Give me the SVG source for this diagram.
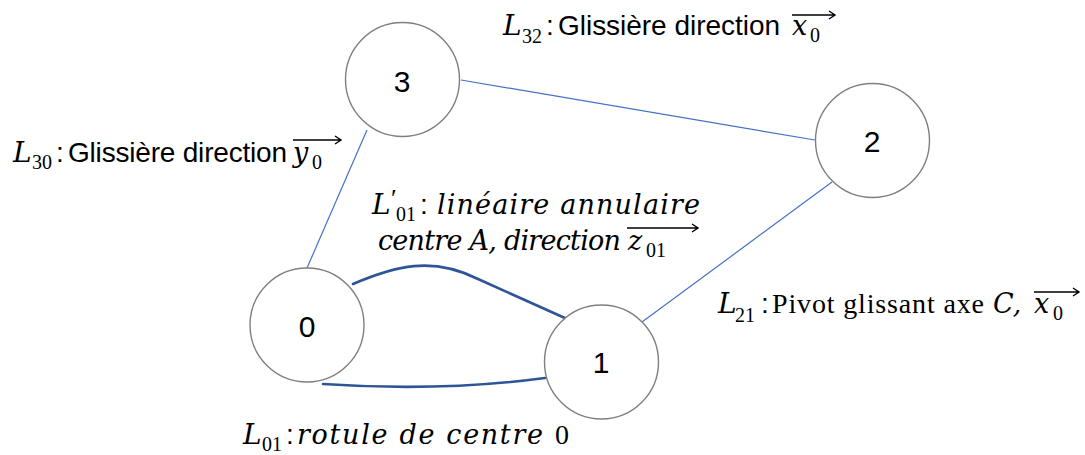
<svg xmlns="http://www.w3.org/2000/svg" width="1085" height="455" viewBox="0 0 1085 455">
<style>
.node{fill:#fff;stroke:#7f7f7f;stroke-width:1.4}
.num{font-family:"Liberation Sans",Arial,sans-serif;font-size:30px;fill:#000;text-anchor:middle}
.thin{stroke:#4472c4;stroke-width:1.2;fill:none}
.thick{stroke:#2f5597;stroke-width:2.6;fill:none;stroke-linecap:round}
.sans{font-family:"Liberation Sans",Arial,sans-serif;font-size:28px;fill:#000}
.ser{font-family:"Liberation Serif","Times New Roman",serif;font-size:28px;fill:#000}
.it{font-family:"DejaVu Serif",serif;font-style:italic;font-size:27px;fill:#000}
.L{font-family:"DejaVu Serif",serif;font-style:italic;font-size:28px;fill:#000}
.pr{font-family:"Liberation Serif","Times New Roman",serif;font-size:26px;fill:#000}
.sub{font-family:"Liberation Serif","Times New Roman",serif;font-size:20px;fill:#000}
.vec{stroke:#000;stroke-width:1.4;fill:none}
</style>
<rect width="1085" height="455" fill="#fff"/>
<g id="connectors">
<line class="thin" x1="461" y1="80" x2="815" y2="140"/>
<line class="thin" x1="367" y1="130" x2="307" y2="268"/>
<line class="thin" x1="832" y1="182" x2="642" y2="322"/>
<path class="thick" d="M353,284 C395,266 432,256 478,279 L576,323"/>
<path class="thick" d="M323,384 Q440,392 545,378"/>
</g>
<g id="node3"><circle class="node" cx="402.5" cy="79.5" r="57"/><text class="num" x="402" y="92">3</text></g>
<g id="node2"><circle class="node" cx="872.5" cy="140.5" r="57"/><text class="num" x="872" y="152">2</text></g>
<g id="node0"><circle class="node" cx="307" cy="325" r="57"/><text class="num" x="307" y="337">0</text></g>
<g id="node1"><circle class="node" cx="601.5" cy="362" r="57"/><text class="num" x="601" y="373">1</text></g>
<g id="label-L32">
<text class="L" x="503" y="35">L</text><text class="sub" x="522" y="43">32</text>
<text class="sans" x="546" y="35">:</text>
<text class="sans" x="558" y="35" textLength="222" lengthAdjust="spacing">Glissière direction</text>
<text class="it" x="792" y="35">x</text><text class="sub" x="810" y="42">0</text>
<path class="vec" d="M792,15 H835 M829,11 L835,15 L829,19"/>
</g>
<g id="label-L30">
<text class="L" x="13" y="162">L</text><text class="sub" x="32" y="169">30</text>
<text class="sans" x="56" y="162">:</text>
<text class="sans" x="68" y="162" textLength="219" lengthAdjust="spacing">Glissière direction</text>
<text class="it" x="293" y="162">y</text><text class="sub" x="312" y="169">0</text>
<path class="vec" d="M293,140 H341 M335,136 L341,140 L335,144"/>
</g>
<g id="label-Lp01">
<text class="L" x="372" y="214">L</text><text class="pr" x="391" y="207">′</text><text class="sub" x="396" y="221">01</text>
<text class="sans" x="420" y="214">:</text>
<text class="it" x="437" y="214" textLength="263" lengthAdjust="spacing">linéaire annulaire</text>
<text class="it" x="378" y="250" textLength="243" lengthAdjust="spacing">centre A, direction</text>
<text class="it" x="628" y="250">z</text><text class="sub" x="646" y="257">01</text>
<path class="vec" d="M627,228 H698 M692,224 L698,228 L692,232"/>
</g>
<g id="label-L21">
<text class="L" x="718" y="313">L</text><text class="sub" x="735" y="322">21</text>
<text class="sans" x="761" y="313">:</text>
<text class="ser" x="772" y="313" textLength="212" lengthAdjust="spacing">Pivot glissant axe</text>
<text class="it" x="993" y="313">C,</text>
<text class="it" x="1034" y="313">x</text><text class="sub" x="1053" y="320">0</text>
<path class="vec" d="M1034,292 H1079 M1073,288 L1079,292 L1073,296"/>
</g>
<g id="label-L01">
<text class="L" x="243" y="444">L</text><text class="sub" x="262" y="451">01</text>
<text class="sans" x="286" y="444">:</text>
<text class="it" x="297" y="444" textLength="246" lengthAdjust="spacing">rotule de centre</text>
<text class="ser" x="555" y="444">0</text>
</g>
</svg>
